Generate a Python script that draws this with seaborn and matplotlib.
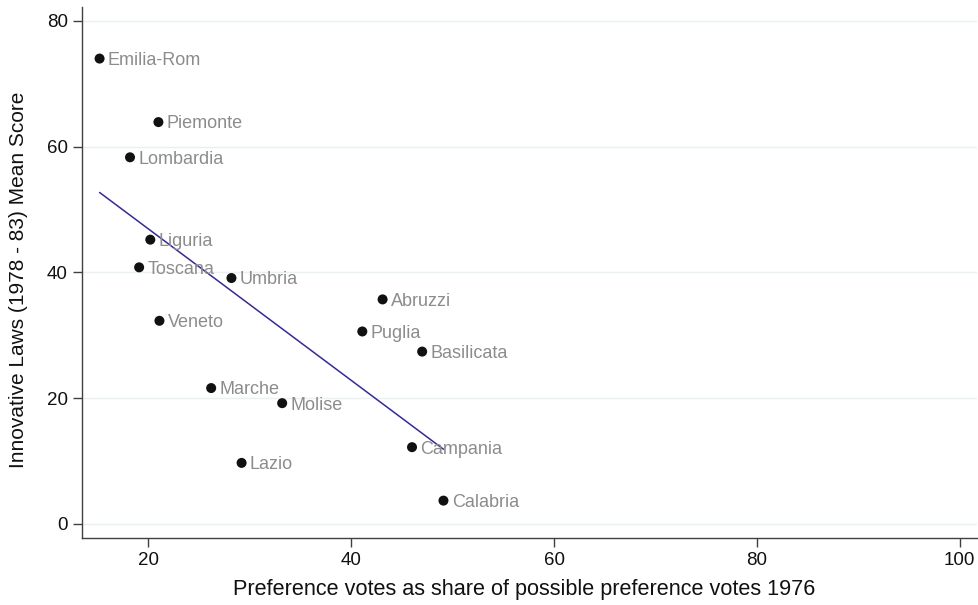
import matplotlib
matplotlib.use("Agg")
import matplotlib.pyplot as plt
import seaborn as sns
import pandas as pd

# Italian regions: preference voting (1976) vs. innovative regional laws (1978-83)
regions = ["Emilia-Rom", "Piemonte", "Lombardia", "Liguria", "Toscana", "Umbria",
           "Veneto", "Abruzzi", "Puglia", "Basilicata", "Campania", "Calabria",
           "Marche", "Molise", "Lazio"]
pref_votes = [15.2, 21.0, 18.2, 20.2, 19.1, 28.2,
              21.1, 43.1, 41.1, 47.0, 46.0, 49.1,
              26.2, 33.2, 29.2]
innov_laws = [74.0, 63.9, 58.3, 45.2, 40.8, 39.1,
              32.3, 35.7, 30.6, 27.4, 12.2, 3.7,
              21.6, 19.2, 9.7]
x_ticks = [20, 40, 60, 80, 100]
y_ticks = [0, 20, 40, 60, 80]

df = pd.DataFrame({"region": regions, "pref": pref_votes, "laws": innov_laws})

sns.set_theme(style="white")
plt.rcParams["font.family"] = ["Liberation Sans", "DejaVu Sans"]

fig = plt.figure(figsize=(9.79, 6.05), dpi=100)
ax = fig.add_axes([0.0841, 0.1112, 0.9139, 0.8772])

# fitted line over the observed range
sns.regplot(data=df, x="pref", y="laws", ax=ax, scatter=False, ci=None,
            truncate=True, line_kws={"color": "#34299a", "lw": 1.1, "zorder": 2})
sns.scatterplot(data=df, x="pref", y="laws", ax=ax, color="#111111", s=52,
                edgecolor="none", zorder=3, legend=False)

for name, xv, yv in zip(regions, pref_votes, innov_laws):
    ax.annotate(name, (xv, yv), xytext=(6, -4.6), textcoords="offset points",
                ha="left", va="baseline", fontsize=13, color="#8c8c8c", zorder=4)

ax.set_xlim(13.5, 101.7)
ax.set_ylim(-2.2, 82.2)
ax.set_xticks(x_ticks)
ax.set_yticks(y_ticks)
ax.yaxis.grid(True, color="#e9f1f1", lw=1.0)
ax.xaxis.grid(False)
ax.set_axisbelow(True)

for side in ("top", "right"):
    ax.spines[side].set_visible(False)
for side in ("left", "bottom"):
    ax.spines[side].set_color("#404040")
    ax.spines[side].set_linewidth(1.0)

ax.tick_params(axis="both", which="major", direction="out", length=6.5, width=1.0,
               color="#404040", labelsize=13.5, labelcolor="#111111", pad=4,
               left=True, bottom=True)

ax.set_xlabel("Preference votes as share of possible preference votes 1976",
              fontsize=15.6, color="#111111")
ax.set_ylabel("Innovative Laws (1978 - 83) Mean Score",
              fontsize=15, color="#111111")
ax.xaxis.set_label_coords(0.4937, -0.0985)
ax.xaxis.label.set_va("center")
ax.yaxis.set_label_coords(-0.0719, 0.4856)
ax.yaxis.label.set_va("center")

fig.savefig("out.png", dpi=100)
